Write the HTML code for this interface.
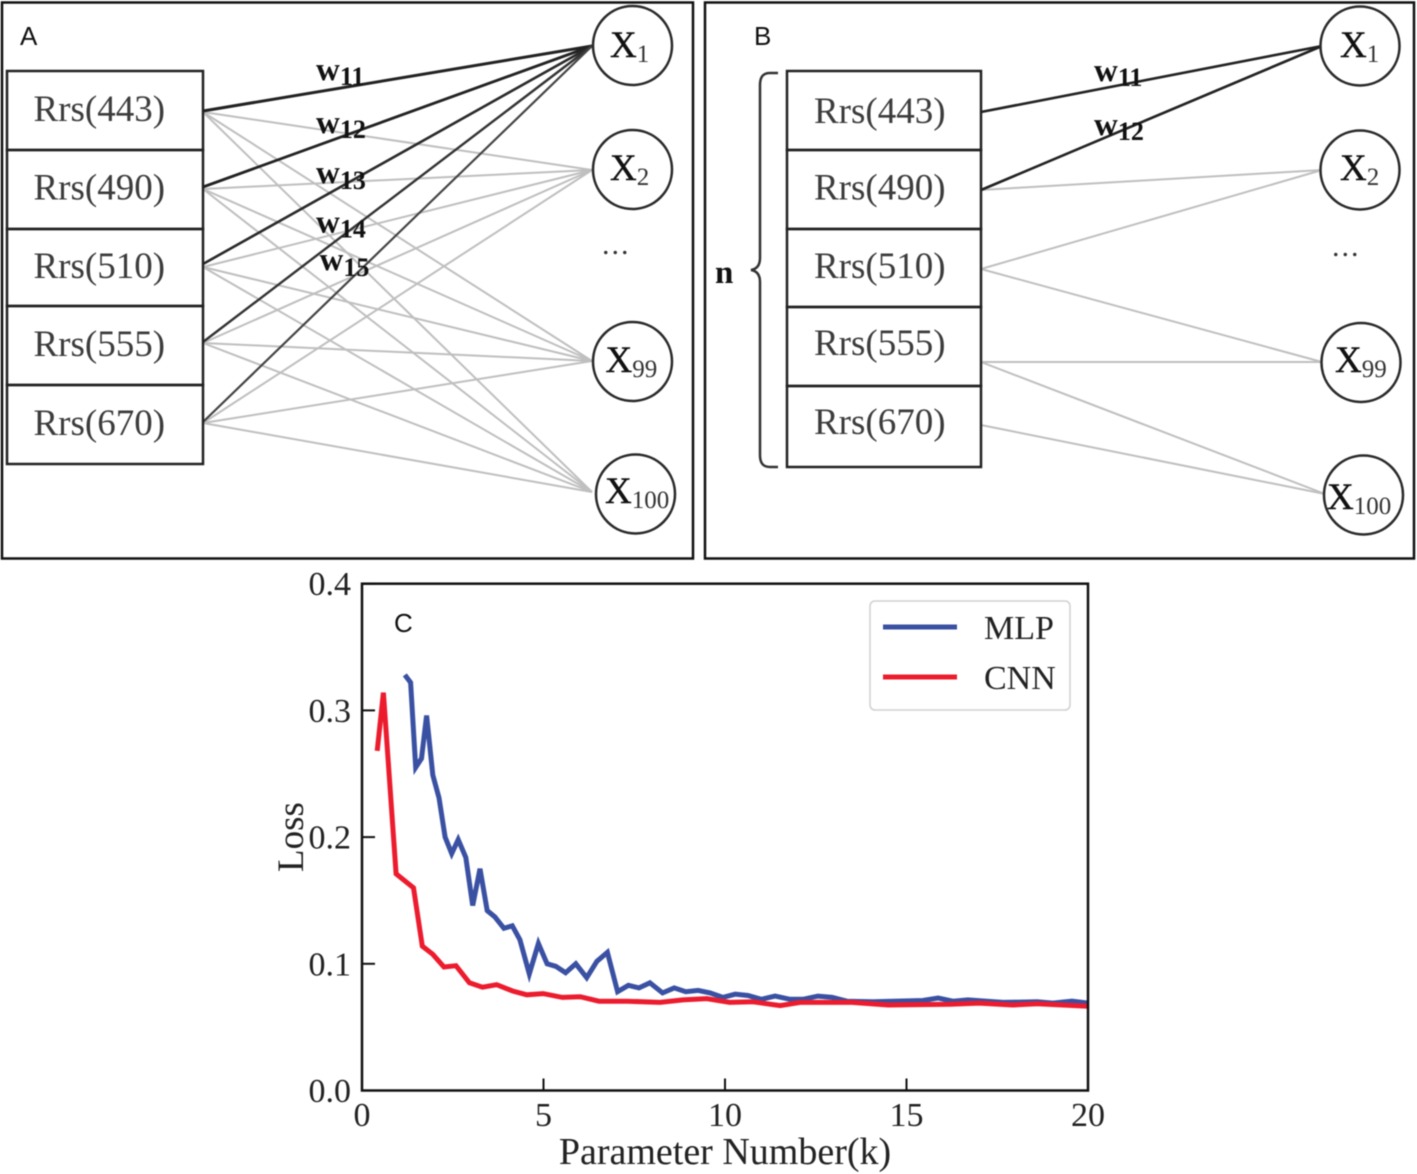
<!DOCTYPE html>
<html lang="en">
<head>
<meta charset="utf-8">
<title>MLP and CNN structure with loss chart</title>
<style>
html,body{margin:0;padding:0;background:#fff;width:1417px;height:1174px;overflow:hidden}
svg{display:block;filter:blur(.4px)}
.serif{font-family:"Liberation Serif",serif}
.sans{font-family:"Liberation Sans",sans-serif}
.rrs{font-size:37px;fill:#3c3c3c}
.node{font-size:37px;fill:#111;stroke:#111;stroke-width:.4px}
.sub{font-size:25px;fill:#333;stroke:none}
.wt{font-size:33px;font-weight:bold;fill:#111}
.wsub{font-size:26px;font-weight:bold}
.tick{font-size:34px;fill:#222}
.dots{letter-spacing:2px}
</style>
</head>
<body>
<svg id="fig" xmlns="http://www.w3.org/2000/svg" width="1417" height="1174" viewBox="0 0 1417 1174">
  <rect width="1417" height="1174" fill="#fff"/>
  <rect x="2" y="2.500" width="691" height="556" fill="none" stroke="#111" stroke-width="2.500"/>
  <rect x="705" y="2.500" width="709" height="556" fill="none" stroke="#111" stroke-width="2.500"/>
  <g id="linksA"></g>
  <g id="linksB"></g>
  <g id="boxesA"></g>
  <g id="boxesB"></g>
  <g id="nodesA"></g>
  <g id="nodesB"></g>

  <text class="sans" x="20" y="45" font-size="26" fill="#111">A</text>
  <text class="sans" x="754" y="45" font-size="26" fill="#111">B</text>
  <text class="sans" x="394" y="632" font-size="26" fill="#111">C</text>

  <text class="serif wt" x="316" y="80">w<tspan class="wsub" dy="5">11</tspan></text>
  <text class="serif wt" x="316" y="133">w<tspan class="wsub" dy="5">12</tspan></text>
  <text class="serif wt" x="316" y="183">w<tspan class="wsub" dy="6">13</tspan></text>
  <text class="serif wt" x="316" y="232.500">w<tspan class="wsub" dy="5">14</tspan></text>
  <text class="serif wt" x="319.500" y="270">w<tspan class="wsub" dy="6">15</tspan></text>
  <text class="serif wt" x="1094" y="81">w<tspan class="wsub" dy="5">11</tspan></text>
  <text class="serif wt" x="1094" y="135">w<tspan class="wsub" dy="5">12</tspan></text>

  <text class="serif dots" x="602" y="254" font-size="30" fill="#333">...</text>
  <text class="serif dots" x="1332" y="256" font-size="30" fill="#333">...</text>

  <path d="M778 73 L770 73 C763 73 760 77 760 85 L760 258 C760 265 757 269 751 270 C757 271 760 275 760 282 L760 455 C760 463 763 467 770 467 L778 467" fill="none" stroke="#333" stroke-width="2.500"/>
  <text class="serif" x="715" y="283" font-size="33" font-weight="bold" fill="#111">n</text>

  <g id="chart"></g>
</svg>
<script>
var rrsLabels = ['Rrs(443)', 'Rrs(490)', 'Rrs(510)', 'Rrs(555)', 'Rrs(670)'];
var outputLabels = [['X', '1'], ['X', '2'], ['X', '99'], ['X', '100']];

var mlpX = [1.18,1.34,1.48,1.64,1.78,1.95,2.12,2.29,2.47,2.65,2.86,3.05,3.25,3.45,3.66,3.91,4.14,4.35,4.61,4.86,5.10,5.34,5.61,5.89,6.19,6.47,6.76,7.04,7.34,7.63,7.93,8.28,8.6,8.92,9.26,9.59,9.94,10.28,10.63,11.0,11.38,11.79,12.15,12.56,12.95,13.36,14.08,14.63,15.45,15.87,16.28,16.69,17.22,17.66,18.6,19.03,19.56,20];
var mlpLoss = [.328,.322,.255,.262,.296,.249,.231,.200,.187,.198,.184,.146,.175,.142,.137,.128,.130,.119,.092,.116,.100,.098,.093,.100,.089,.102,.109,.078,.083,.081,.085,.077,.081,.078,.079,.077,.0735,.076,.075,.072,.0745,.072,.072,.0745,.0735,.0705,.070,.0705,.071,.073,.0705,.0715,.0705,.0695,.070,.069,.0705,.069];
var cnnX = [.42,.59,.94,1.42,1.66,1.95,2.26,2.59,2.96,3.32,3.71,4.15,4.54,4.99,5.52,6.01,6.53,7.3,8.21,8.84,9.5,10.13,10.77,11.52,12.07,13.5,14.5,16.2,17.0,17.93,18.6,20];
var cnnLoss = [.268,.314,.171,.160,.114,.1075,.0975,.0985,.085,.0815,.0835,.0785,.0755,.0765,.0735,.074,.0705,.0705,.0695,.0715,.0725,.0695,.070,.067,.0695,.0695,.0675,.068,.069,.0675,.0685,.0665];
var xTicks = [0, 5, 10, 15, 20];
var yTicks = [0.0, 0.1, 0.2, 0.3, 0.4];
var xTickLabels = ['0', '5', '10', '15', '20'];
var yTickLabels = ['0.0', '0.1', '0.2', '0.3', '0.4'];

var NS = 'http://www.w3.org/2000/svg';
function make(parent, tag, props, text) {
  var el = document.createElementNS(NS, tag);
  for (var k in props) el.setAttribute(k, props[k]);
  if (text !== undefined) el.textContent = text;
  parent.appendChild(el);
  return el;
}
function px(v) { return 362 + v * 36.3; }
function py(v) { return 1090.5 - v * 1267; }

/* ---------- network diagrams ---------- */
function drawBoxes(groupId, x, w, edges, baselines, textX, suffix) {
  var g = document.getElementById(groupId);
  rrsLabels.forEach(function (label, i) {
    var r = make(g, 'rect', {x: x, y: edges[i], width: w, height: edges[i + 1] - edges[i], fill: 'none', stroke: '#222', 'stroke-width': 2.5});
    
    
    var t = make(g, 'text', {x: textX, y: baselines[i], 'class': 'serif rrs'}, label);
    
    
  });
}
drawBoxes('boxesA', 7, 196, [71, 150, 229, 306, 385, 464], [121, 199.5, 278, 356, 435], 33.5, 'a');
drawBoxes('boxesB', 787, 194, [71, 150, 229, 307, 386, 467], [123, 199.5, 278, 355, 434], 814, 'b');

function drawNodes(groupId, specs, suffix) {
  var g = document.getElementById(groupId);
  specs.forEach(function (c, i) {
    var circle = make(g, 'circle', {cx: c[0], cy: c[1], r: 39.5, fill: '#fff', stroke: '#2a2a2a', 'stroke-width': 2.5});
    
    
    var t = make(g, 'text', {x: c[2], y: c[3], 'class': 'serif node'}, outputLabels[i][0]);
    
    
    make(t, 'tspan', {dy: 5, 'class': 'sub'}, outputLabels[i][1]);
  });
}

function link(g, x1, y1, x2, y2, color, width, name) {
  var l = make(g, 'line', {x1: x1, y1: y1, x2: x2, y2: y2, stroke: color, 'stroke-width': width});
  
  
}
var GRAY = '#bfbfbf';
var gA = document.getElementById('linksA');
var lightLeftA = [112, 189, 267, 343, 423];
var darkLeftA = [111, 187, 264, 342, 422];
var rightA = [46, 170, 361, 492];
var darkColors = ['#222', '#222', '#2a2a2a', '#333', '#444'];
var darkWidths = [3, 2.8, 2.6, 2.4, 2.2];
[1, 2, 3].forEach(function (j) {
  lightLeftA.forEach(function (y) { link(gA, 203, y, 592, rightA[j], GRAY, 2, 'connection-light'); });
});
darkLeftA.forEach(function (y, i) { link(gA, 203, y, 592, rightA[0], darkColors[i], darkWidths[i], 'connection-dark'); });

var gB = document.getElementById('linksB');
link(gB, 981, 190, 1322, 170, GRAY, 2, 'connection-light');
link(gB, 981, 269, 1322, 170, GRAY, 2, 'connection-light');
link(gB, 981, 269, 1322, 362, GRAY, 2, 'connection-light');
link(gB, 981, 362, 1322, 362, GRAY, 2, 'connection-light');
link(gB, 981, 362, 1325, 494, GRAY, 2, 'connection-light');
link(gB, 981, 425, 1325, 494, GRAY, 2, 'connection-light');
link(gB, 981, 112, 1322, 46, '#222', 2.6, 'connection-dark');
link(gB, 981, 190, 1322, 46, '#222', 2.6, 'connection-dark');

drawNodes('nodesA', [[632.5, 45.5, 610, 57], [632.5, 169.5, 610, 180], [632.5, 361.5, 605.5, 372], [635.5, 494, 605, 503]], 'a');
drawNodes('nodesB', [[1360, 46, 1340, 57], [1360, 170, 1340, 180], [1361, 362.5, 1335, 372], [1363.5, 495, 1327, 509]], 'b');

/* ---------- loss chart ---------- */
var chart = document.getElementById('chart');

function series(xs, ys, color, name) {
  var pts = xs.map(function (x, i) { return px(x).toFixed(1) + ',' + py(ys[i]).toFixed(1); }).join(' ');
  var s = make(chart, 'polyline', {points: pts, fill: 'none', stroke: color, 'stroke-width': 5, 'stroke-linejoin': 'miter'});
  
  
}
series(mlpX, mlpLoss, '#3a51a3', 'mlp-line');
series(cnnX, cnnLoss, '#ec1c2e', 'cnn-line');

var frame = make(chart, 'rect', {x: px(0), y: py(0.4), width: px(20) - px(0), height: py(0) - py(0.4), fill: 'none', stroke: '#111', 'stroke-width': 2.5});



xTicks.forEach(function (v, i) {
  var m = make(chart, 'line', {x1: px(v), x2: px(v), y1: py(0), y2: py(0) - 12, stroke: '#111', 'stroke-width': 2});
  
  
  var t = make(chart, 'text', {x: px(v), y: 1126, 'text-anchor': 'middle', 'class': 'serif tick'}, xTickLabels[i]);
  
  
});
yTicks.forEach(function (v, i) {
  var m = make(chart, 'line', {x1: px(0), x2: px(0) + 13, y1: py(v), y2: py(v), stroke: '#111', 'stroke-width': 2});
  
  
  var t = make(chart, 'text', {x: 351, y: py(v) + 11.5, 'text-anchor': 'end', 'class': 'serif tick'}, yTickLabels[i]);
  
  
});

var xTitle = make(chart, 'text', {x: 725, y: 1164, 'text-anchor': 'middle', 'font-size': 38, fill: '#222', 'class': 'serif'}, 'Parameter Number(k)');


var yTitle = make(chart, 'text', {x: 0, y: 0, transform: 'translate(303 837) rotate(-90)', 'text-anchor': 'middle', 'font-size': 37, fill: '#222', 'class': 'serif'}, 'Loss');



var legend = make(chart, 'rect', {x: 870, y: 601, width: 200, height: 109, rx: 5, fill: '#fff', stroke: '#d0d0d0', 'stroke-width': 1.5});


var leg1 = make(chart, 'line', {x1: 883, x2: 957, y1: 627, y2: 627, stroke: '#3a51a3', 'stroke-width': 5});


var leg2 = make(chart, 'line', {x1: 883, x2: 957, y1: 677, y2: 677, stroke: '#ec1c2e', 'stroke-width': 5});


var legT1 = make(chart, 'text', {x: 984, y: 639, 'font-size': 34, fill: '#222', 'class': 'serif'}, 'MLP');


var legT2 = make(chart, 'text', {x: 984, y: 689, 'font-size': 34, fill: '#222', 'class': 'serif'}, 'CNN');


</script>
</body>
</html>
